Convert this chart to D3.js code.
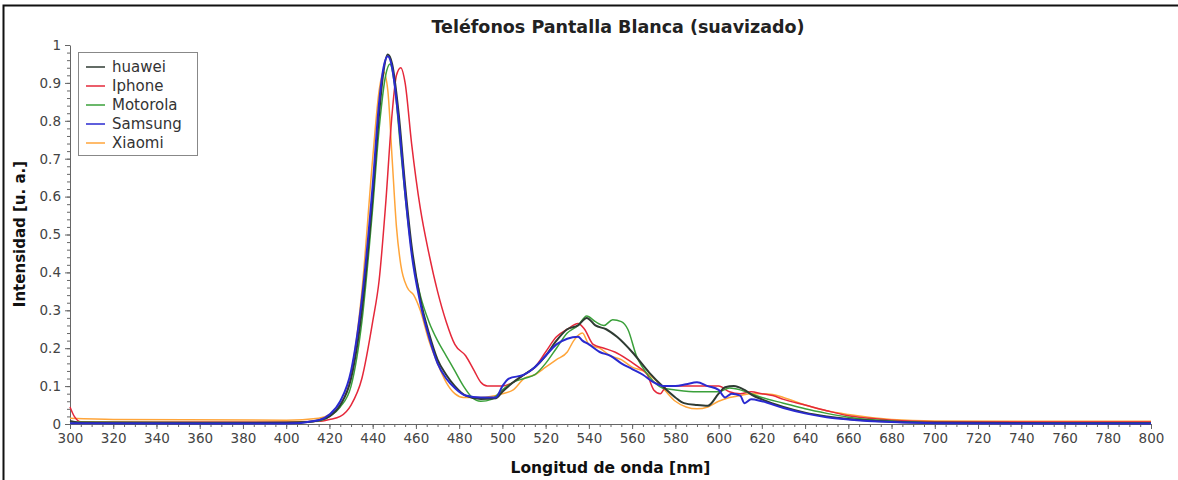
<!DOCTYPE html>
<html>
<head>
<meta charset="utf-8">
<script src="https://cdn.jsdelivr.net/npm/d3@7"></script>
<style>
  html, body { margin: 0; background: #fff; overflow: hidden; }
  svg { display: block; }
  #chart text { font-family: 'DejaVu Sans', Verdana, sans-serif; }
</style>
</head>
<body>
<div id="chart"></div>
<script>
// series: [wavelength nm, intensity]
const seriesNames = ['huawei', 'Iphone', 'Motorola', 'Samsung', 'Xiaomi'];
const seriesColors = ['#2f3b33', '#e5283a', '#3aa03a', '#2a2ad0', '#ffa53a'];
const drawOrder = ['Xiaomi', 'Iphone', 'Motorola', 'huawei', 'Samsung'];

const huaweiData = [[300,0.008],[305,0.003],[320,0.002],[360,0.002],[400,0.003],[410,0.005],[415,0.01],[420,0.02],[425,0.05],[430,0.12],[435,0.3],[440,0.6],[443,0.82],[445,0.93],[447,0.975],[449,0.95],[452,0.82],[455,0.63],[458,0.47],[462,0.33],[466,0.24],[470,0.17],[474,0.13],[478,0.1],[483,0.075],[490,0.066],[497,0.068],[500,0.085],[505,0.11],[510,0.13],[515,0.15],[520,0.18],[525,0.22],[530,0.25],[535,0.26],[539,0.28],[543,0.26],[548,0.25],[553,0.23],[560,0.19],[568,0.135],[574,0.1],[580,0.07],[584,0.055],[590,0.05],[595,0.048],[600,0.08],[603,0.097],[607,0.1],[612,0.09],[616,0.075],[620,0.065],[630,0.045],[640,0.03],[650,0.02],[660,0.013],[680,0.006],[700,0.003],[800,0.002]];

const iphoneData = [[300,0.045],[302,0.02],[305,0.006],[340,0.005],[400,0.005],[415,0.007],[420,0.012],[425,0.02],[430,0.05],[435,0.12],[440,0.27],[443,0.38],[446,0.58],[449,0.82],[451,0.92],[453,0.94],[455,0.9],[458,0.74],[462,0.57],[466,0.45],[470,0.35],[474,0.27],[478,0.21],[483,0.18],[487,0.14],[490,0.11],[493,0.1],[500,0.1],[505,0.11],[510,0.13],[515,0.15],[520,0.19],[525,0.23],[530,0.25],[535,0.265],[538,0.25],[542,0.21],[547,0.2],[552,0.19],[558,0.17],[563,0.15],[567,0.13],[570,0.09],[573,0.08],[576,0.1],[580,0.1],[590,0.1],[600,0.1],[605,0.085],[610,0.08],[615,0.085],[620,0.08],[625,0.075],[630,0.065],[640,0.05],[650,0.035],[660,0.022],[670,0.015],[680,0.01],[700,0.006],[750,0.005],[800,0.005]];

const motorolaData = [[300,0.005],[400,0.004],[415,0.008],[420,0.02],[425,0.045],[430,0.1],[435,0.27],[440,0.57],[443,0.78],[446,0.92],[448,0.95],[450,0.9],[453,0.72],[456,0.55],[459,0.42],[462,0.34],[466,0.27],[470,0.22],[474,0.18],[478,0.14],[482,0.1],[486,0.07],[490,0.06],[495,0.065],[500,0.09],[505,0.11],[510,0.12],[515,0.13],[520,0.16],[525,0.2],[530,0.24],[535,0.26],[539,0.285],[543,0.27],[547,0.26],[551,0.275],[555,0.27],[558,0.25],[562,0.18],[568,0.125],[574,0.095],[580,0.09],[590,0.085],[600,0.085],[605,0.095],[610,0.09],[615,0.08],[620,0.07],[630,0.055],[640,0.04],[650,0.028],[660,0.018],[680,0.008],[700,0.004],[800,0.003]];

const samsungData = [[300,0.002],[400,0.001],[415,0.01],[420,0.025],[425,0.06],[430,0.14],[435,0.33],[440,0.63],[443,0.85],[445,0.94],[447,0.97],[449,0.94],[452,0.8],[455,0.61],[458,0.45],[462,0.32],[466,0.23],[470,0.16],[474,0.12],[478,0.095],[483,0.075],[490,0.07],[497,0.07],[500,0.1],[503,0.12],[510,0.13],[515,0.15],[520,0.18],[525,0.21],[530,0.225],[535,0.23],[537,0.22],[540,0.21],[545,0.19],[550,0.18],[555,0.16],[560,0.145],[565,0.13],[570,0.11],[575,0.1],[580,0.1],[585,0.105],[590,0.11],[595,0.1],[600,0.09],[603,0.07],[606,0.08],[610,0.075],[612,0.055],[615,0.065],[620,0.06],[630,0.042],[640,0.028],[650,0.018],[660,0.012],[680,0.005],[700,0.002],[800,0.001]];

const xiaomiData = [[300,0.015],[320,0.012],[400,0.01],[415,0.015],[420,0.025],[425,0.05],[430,0.13],[435,0.35],[440,0.7],[443,0.88],[445,0.93],[447,0.88],[449,0.7],[451,0.52],[453,0.42],[456,0.36],[459,0.34],[462,0.3],[466,0.22],[470,0.16],[474,0.11],[478,0.08],[482,0.07],[490,0.07],[500,0.08],[505,0.09],[510,0.12],[515,0.13],[520,0.15],[525,0.17],[530,0.19],[533,0.22],[537,0.24],[540,0.21],[545,0.2],[550,0.18],[555,0.17],[560,0.15],[565,0.14],[570,0.12],[575,0.09],[580,0.06],[585,0.045],[590,0.04],[595,0.045],[600,0.06],[605,0.07],[610,0.075],[615,0.08],[620,0.08],[625,0.078],[630,0.07],[640,0.05],[650,0.035],[660,0.025],[680,0.012],[700,0.008],[800,0.007]];

const xTickValues = d3.range(300, 801, 20);
const yTickValues = d3.range(0, 1.001, 0.1);

const chartTitle = 'Teléfonos Pantalla Blanca (suavizado)';
const xLabel = 'Longitud de onda [nm]';
const yLabel = 'Intensidad [u. a.]';

(($d3) => {
  const options = {
    width: 1178,
    height: 480,
    margins: { top: 45, right: 27, bottom: 56, left: 70 },
  };

  const dataByName = {
    huawei: huaweiData,
    Iphone: iphoneData,
    Motorola: motorolaData,
    Samsung: samsungData,
    Xiaomi: xiaomiData,
  };

  const innerW = options.width - options.margins.left - options.margins.right;
  const innerH = options.height - options.margins.top - options.margins.bottom;

  const xScale = $d3.scaleLinear().domain([300, 800]).range([0, innerW]);
  const yScale = $d3.scaleLinear().domain([0, 1]).range([innerH, 0]);
  const color = $d3.scaleOrdinal().domain(seriesNames).range(seriesColors);

  const svg = $d3
    .select('#chart')
    .append('svg')
    .attr('width', options.width)
    .attr('height', options.height);

  // frame: only the left and top edges show in the crop
  svg
    .append('path')
    .attr('d', 'M3.5,' + options.height + 'V5.5H' + options.width)
    .attr('fill', 'none')
    .attr('stroke', '#111')
    .attr('stroke-width', 2);

  const g = svg
    .append('g')
    .attr('transform', 'translate(' + options.margins.left + ',' + options.margins.top + ')');

  // minor ticks
  const axisColor = '#666';
  g.append('g')
    .attr('class', 'minor x')
    .attr('transform', 'translate(0,' + innerH + ')')
    .call($d3.axisBottom(xScale).tickValues($d3.range(300, 801, 5)).tickSize(3).tickFormat(''))
    .call((a) => a.select('.domain').remove());
  g.append('g')
    .attr('class', 'minor y')
    .call($d3.axisLeft(yScale).tickValues($d3.range(0, 1.001, 0.02)).tickSize(3).tickFormat(''))
    .call((a) => a.select('.domain').remove());

  const xAxis = g
    .append('g')
    .attr('transform', 'translate(0,' + innerH + ')')
    .call($d3.axisBottom(xScale).tickValues(xTickValues).tickSize(5).tickSizeOuter(0).tickFormat($d3.format('d')));
  const yAxis = g
    .append('g')
    .call($d3.axisLeft(yScale).tickValues(yTickValues).tickSize(5).tickSizeOuter(0).tickFormat((d) => +d.toFixed(1)));

  g.selectAll('.tick line, .domain').attr('stroke', axisColor);
  xAxis.selectAll('text').attr('fill', '#444').style('font-size', '13.5px').attr('dy', '0.85em');
  yAxis.selectAll('text').attr('fill', '#444').style('font-size', '13.5px').attr('dx', '-1px');

  // lines
  const line = $d3
    .line()
    .curve($d3.curveMonotoneX)
    .x((d) => xScale(d[0]))
    .y((d) => yScale(d[1]));

  g.append('g')
    .attr('class', 'lines')
    .selectAll('path')
    .data(drawOrder)
    .enter()
    .append('path')
    .attr('d', (name) => line(dataByName[name]))
    .attr('fill', 'none')
    .attr('stroke', (name) => color(name))
    .attr('stroke-width', (name) => (name === 'Samsung' || name === 'huawei' ? 2 : 1.5))
    .attr('stroke-linejoin', 'round');

  // legend
  const legend = svg.append('g').attr('transform', 'translate(78,52)');
  legend
    .append('rect')
    .attr('x', 0.5)
    .attr('y', 0.5)
    .attr('width', 119)
    .attr('height', 103)
    .attr('fill', '#fff')
    .attr('stroke', '#888');
  const rows = legend
    .selectAll('g.row')
    .data(seriesNames)
    .enter()
    .append('g')
    .attr('class', 'row')
    .attr('transform', (d, i) => 'translate(0,' + (15 + i * 19) + ')');
  rows
    .append('line')
    .attr('x1', 8)
    .attr('x2', 27)
    .attr('stroke', (d) => color(d))
    .attr('stroke-width', 1.5);
  rows
    .append('text')
    .attr('x', 34)
    .attr('dy', '0.35em')
    .attr('fill', '#333')
    .style('font-size', '15px')
    .text((d) => d);

  // titles
  svg
    .append('text')
    .attr('x', 618)
    .attr('y', 33)
    .attr('text-anchor', 'middle')
    .attr('fill', '#222')
    .style('font-size', '17.5px')
    .style('font-weight', 'bold')
    .text(chartTitle);
  svg
    .append('text')
    .attr('x', options.margins.left + innerW / 2)
    .attr('y', 473)
    .attr('text-anchor', 'middle')
    .attr('fill', '#111')
    .style('font-size', '15.5px')
    .style('font-weight', 'bold')
    .text(xLabel);
  svg
    .append('text')
    .attr('transform', 'translate(25,234) rotate(-90)')
    .attr('text-anchor', 'middle')
    .attr('fill', '#111')
    .style('font-size', '15px')
    .style('font-weight', 'bold')
    .text(yLabel);
})(d3);
</script>
</body>
</html>
